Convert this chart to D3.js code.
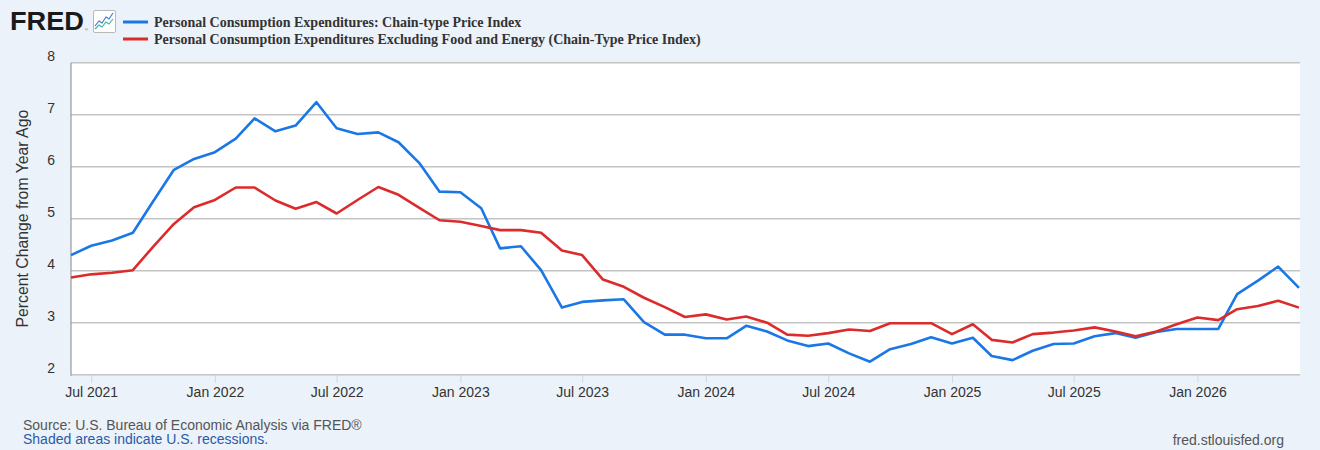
<!DOCTYPE html>
<html>
<head>
<meta charset="utf-8">
<script src="https://cdn.jsdelivr.net/npm/d3@7"></script>
<style>
  body { margin:0; background:#ebf2f9; }
  svg { display:block; }
</style>
</head>
<body>
<svg id="chart" width="1320" height="450"></svg>
<script>
// monthly observations, Jun 2021 .. Jun 2026
var firstMonth = "2021-06", lastMonth = "2026-06";
var pceValues = [4.30,4.48,4.58,4.73,5.33,5.94,6.15,6.28,6.54,6.93,6.68,6.79,7.24,6.74,6.63,6.66,6.47,6.07,5.52,5.51,
  5.20,4.43,4.47,4.01,3.29,3.40,3.43,3.45,3.01,2.77,2.77,2.70,2.70,2.94,2.83,2.66,2.55,2.60,2.41,2.25,
  2.49,2.59,2.72,2.60,2.71,2.36,2.28,2.46,2.59,2.60,2.74,2.80,2.71,2.82,2.88,2.88,2.88,3.55,3.81,4.08,3.67];
var coreValues = [3.87,3.93,3.96,4.01,4.46,4.90,5.22,5.36,5.60,5.60,5.35,5.19,5.32,5.10,5.36,5.61,5.46,5.21,4.97,4.94,
  4.86,4.78,4.78,4.73,4.39,4.30,3.83,3.69,3.48,3.30,3.11,3.16,3.06,3.12,3.00,2.77,2.75,2.80,2.87,2.84,
  2.99,2.99,2.99,2.78,2.97,2.67,2.62,2.78,2.81,2.85,2.91,2.83,2.74,2.83,2.97,3.10,3.05,3.26,3.32,3.42,3.29];
var seriesNames = ["Personal Consumption Expenditures: Chain-type Price Index",
  "Personal Consumption Expenditures Excluding Food and Energy (Chain-Type Price Index)"];
var seriesColors = ["#1a78e6","#dc2b2b"];
var yTicks = [2,3,4,5,6,7,8];
var xTickDates = ["2021-07","2022-01","2022-07","2023-01","2023-07","2024-01","2024-07","2025-01","2025-07","2026-01"];
var yTitle = "Percent Change from Year Ago";
var sourceText = "Source: U.S. Bureau of Economic Analysis via FRED\u00ae";
var shadedText = "Shaded areas indicate U.S. recessions.";
var siteText = "fred.stlouisfed.org";

var parseM = d3.timeParse("%Y-%m");
var months = d3.timeMonth.range(parseM(firstMonth), d3.timeMonth.offset(parseM(lastMonth),1));

var svg = d3.select("#chart");
var pLeft = 71, pRight = 1299, pTop = 62.7, pBottom = 374.7;

var x = d3.scaleTime().domain([months[0], months[months.length-1]]).range([pLeft, pRight]);
var y = d3.scaleLinear().domain([2,8]).range([pBottom, pTop]);

// plot area
svg.append("rect").attr("x",pLeft).attr("y",pTop).attr("width",pRight-pLeft+1).attr("height",pBottom-pTop)
  .attr("fill","#fff");

// gridlines
svg.append("g").selectAll("line").data(yTicks.filter(function(d){return d>2;})).enter().append("line")
  .attr("x1",pLeft).attr("x2",pRight+1)
  .attr("y1",function(d){return y(d);}).attr("y2",function(d){return y(d);})
  .attr("stroke","#c4c4c4").attr("stroke-width",1.6);

// y labels
svg.append("g").selectAll("text").data(yTicks).enter().append("text")
  .attr("x",55).attr("y",function(d){return y(d)-1.5;})
  .attr("text-anchor","end")
  .style("font","14px 'Liberation Sans', Arial, sans-serif").attr("fill","#333")
  .text(function(d){return d;});

// x axis
var xAxis = d3.axisBottom(x)
  .tickValues(xTickDates.map(parseM))
  .tickFormat(d3.timeFormat("%b %Y"))
  .tickSize(8).tickPadding(4);
var gx = svg.append("g").attr("transform","translate(0,"+pBottom+")").call(xAxis);
gx.select(".domain").remove();
gx.selectAll(".tick line").attr("stroke","#cdd8e8");
gx.selectAll(".tick text").style("font","14px 'Liberation Sans', Arial, sans-serif").attr("fill","#333");

svg.append("line").attr("x1",pLeft).attr("x2",pRight+1).attr("y1",pBottom).attr("y2",pBottom)
  .attr("stroke","#c4c4c4").attr("stroke-width",1.6);
svg.append("line").attr("x1",pLeft).attr("x2",pLeft).attr("y1",pTop).attr("y2",pBottom+1)
  .attr("stroke","#999").attr("stroke-width",1.2);

// y title
svg.append("text").attr("transform","translate(28,"+((pTop+pBottom)/2)+") rotate(-90)")
  .attr("text-anchor","middle")
  .style("font","15.8px 'Liberation Sans', Arial, sans-serif").attr("fill","#333")
  .text(yTitle);

// lines
var line = d3.line().x(function(d,i){return x(months[i]);}).y(function(d){return y(d);});
[pceValues, coreValues].forEach(function(vals,k){
  svg.append("path").datum(vals).attr("d",line)
    .attr("fill","none").attr("stroke",seriesColors[k]).attr("stroke-width",2.6)
    .attr("stroke-linejoin","round");
});

// logo
svg.append("text").attr("x",10).attr("y",30)
  .style("font","bold 26px 'Liberation Sans', Arial, sans-serif").attr("fill","#1a1a1a")
  .attr("textLength",74).attr("lengthAdjust","spacingAndGlyphs").text("FRED");
svg.append("text").attr("x",85).attr("y",31).style("font","4px sans-serif").attr("fill","#555").text("\u00ae");
var icon = svg.append("g").attr("transform","translate(93,10)");
icon.append("rect").attr("x",0.5).attr("y",0.5).attr("width",22).attr("height",22).attr("rx",1.5)
  .attr("fill","#fff").attr("stroke","#b8b8b8");
icon.append("polyline").attr("points","2,16 6,11 9,13 13,7 16,9 20,3")
  .attr("fill","none").attr("stroke","#3a7fd5").attr("stroke-width",1.2);
icon.append("polyline").attr("points","2,19 6,15 9,17 13,12 16,14 20,9")
  .attr("fill","none").attr("stroke","#4cb39a").attr("stroke-width",1.2);

// legend
var lg = svg.append("g").selectAll("g").data(seriesNames).enter().append("g")
  .attr("transform",function(d,i){return "translate(0,"+(22+i*17)+")";});
lg.append("line").attr("x1",123).attr("x2",148).attr("y1",0).attr("y2",0)
  .attr("stroke",function(d,i){return seriesColors[i];}).attr("stroke-width",3);
lg.append("text").attr("x",154).attr("y",4.5)
  .style("font","bold 14px 'Liberation Serif', 'Times New Roman', serif").attr("fill","#333")
  .text(function(d){return d;});

// footer
var foot = "14px 'Liberation Sans', Arial, sans-serif";
svg.append("text").attr("x",23).attr("y",430).style("font",foot).attr("fill","#555").text(sourceText);
svg.append("text").attr("x",23).attr("y",444).style("font",foot).attr("fill","#2a5ba8").text(shadedText);
svg.append("text").attr("x",1284).attr("y",445).attr("text-anchor","end").style("font",foot).attr("fill","#555").text(siteText);
</script>
</body>
</html>
